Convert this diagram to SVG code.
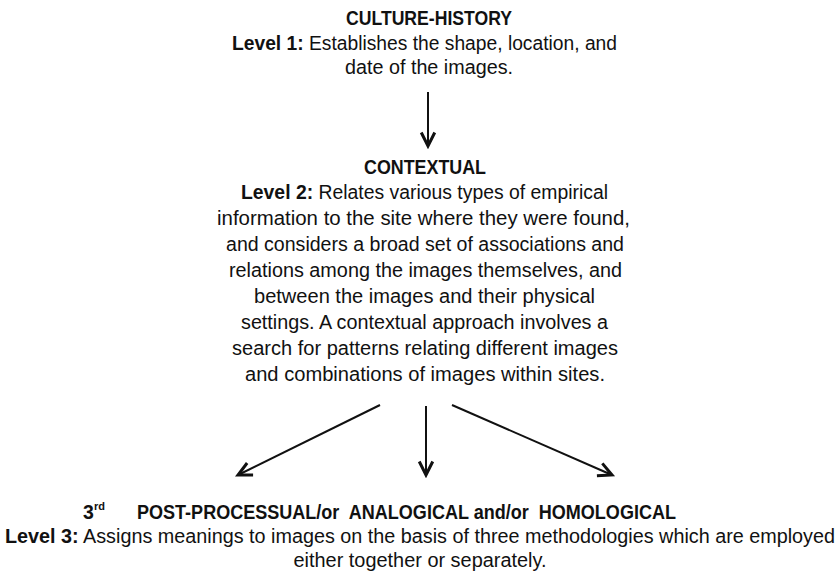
<svg xmlns="http://www.w3.org/2000/svg" width="838" height="574" viewBox="0 0 838 574">
<defs>
<style>
text{font-family:"Liberation Sans",Arial,sans-serif;font-size:19.5px;fill:#111}
.c{text-anchor:middle}
.b{font-weight:bold}
.sup{font-size:11px;font-weight:bold}
.pre{white-space:pre}
.conn line{stroke:#111;stroke-width:2;fill:none;marker-end:url(#ah)}
</style>
<marker id="ah" markerUnits="userSpaceOnUse" markerWidth="18" markerHeight="18" refX="10" refY="6" orient="auto" viewBox="0 0 12 12">
<path d="M1,1.5 L10,6 L1,10.5" fill="none" stroke="#111" stroke-width="2"/>
</marker>
</defs>
<rect width="838" height="574" fill="#fff"/>
<g id="node-culture-history">
<text class="c b" x="429" y="25" textLength="166" lengthAdjust="spacingAndGlyphs">CULTURE-HISTORY</text>
<text class="c" x="424.5" y="50" textLength="385" lengthAdjust="spacingAndGlyphs"><tspan class="b">Level 1:</tspan> Establishes the shape, location, and</text>
<text class="c" x="429" y="74" textLength="168" lengthAdjust="spacingAndGlyphs">date of the images.</text>
</g>
<g id="node-contextual">
<text class="c b" x="425" y="174" textLength="122" lengthAdjust="spacingAndGlyphs">CONTEXTUAL</text>
<text class="c" x="424.5" y="199" textLength="367" lengthAdjust="spacingAndGlyphs"><tspan class="b">Level 2:</tspan> Relates various types of empirical</text>
<text class="c" x="423.5" y="225" textLength="413" lengthAdjust="spacingAndGlyphs">information to the site where they were found,</text>
<text class="c" x="425" y="251" textLength="398" lengthAdjust="spacingAndGlyphs">and considers a broad set of associations and</text>
<text class="c" x="425.5" y="277" textLength="393" lengthAdjust="spacingAndGlyphs">relations among the images themselves, and</text>
<text class="c" x="424.5" y="303" textLength="341" lengthAdjust="spacingAndGlyphs">between the images and their physical</text>
<text class="c" x="424.5" y="329" textLength="367" lengthAdjust="spacingAndGlyphs">settings. A contextual approach involves a</text>
<text class="c" x="425" y="355" textLength="386" lengthAdjust="spacingAndGlyphs">search for patterns relating different images</text>
<text class="c" x="425" y="381" textLength="360" lengthAdjust="spacingAndGlyphs">and combinations of images within sites.</text>
</g>
<g id="node-post-processual">
<text class="b" x="83" y="519">3</text>
<text class="sup" x="94" y="510">rd</text>
<text class="b pre" x="137" y="519" textLength="539" lengthAdjust="spacingAndGlyphs" xml:space="preserve">POST-PROCESSUAL/or  ANALOGICAL and/or  HOMOLOGICAL</text>
<text x="5" y="543" textLength="830" lengthAdjust="spacingAndGlyphs"><tspan class="b">Level 3:</tspan> Assigns meanings to images on the basis of three methodologies which are employed</text>
<text class="c" x="420" y="567" textLength="253" lengthAdjust="spacingAndGlyphs">either together or separately.</text>
</g>
<g id="connectors" class="conn">
<line x1="428" y1="92" x2="428" y2="146"/>
<line x1="380" y1="405" x2="238" y2="475"/>
<line x1="426" y1="406" x2="426" y2="475"/>
<line x1="452" y1="405" x2="612" y2="475"/>
</g>
</svg>
